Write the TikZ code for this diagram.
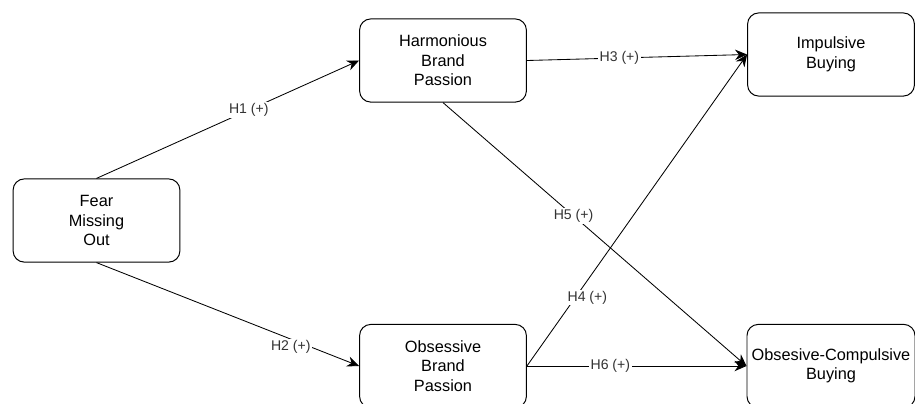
\documentclass[tikz,border=0pt]{standalone}
\usepackage{fontspec}
\setmainfont{Liberation Sans}
\usetikzlibrary{arrows.meta}

\tikzset{
  construct/.style={draw, rounded corners=8pt, line width=0.7pt, minimum width=4.17cm, minimum height=2.08cm, align=center, font=\fontsize{11.6}{13.9}\selectfont},
  hyp/.style={draw, line width=0.6pt, -{Stealth[length=3mm, width=2.6mm]}},
  hlabel/.style={fill=white, inner sep=1pt, text=black!80, font=\fontsize{10}{12}\selectfont}
}

\begin{document}
\begin{tikzpicture}[x=0.025cm, y=-0.025cm]
\useasboundingbox (0,0) rectangle (915,403);

\node[construct] (fomo) at (96.5,220.5) {Fear\\Missing\\Out};
\node[construct] (hbp) at (443,60.5) {Harmonious\\Brand\\Passion};
\node[construct] (obp) at (443,366) {Obsessive\\Brand\\Passion};
\node[construct] (imp) at (831,54.5) {Impulsive\\Buying};
\node[construct] (ocb) at (831,366) {Obsesive-Compulsive\\Buying};

% hypotheses
\draw[hyp] (fomo.north) -- (hbp.west) node[hlabel, pos=0.58] {H1 (+)};
\draw[hyp] (fomo.south) -- (obp.west) node[hlabel, pos=0.74, yshift=-0.2cm] {H2 (+)};
\draw[hyp] (hbp.east) -- (imp.west) node[hlabel, pos=0.42] {H3 (+)};
\draw[hyp] (obp.east) -- (imp.west) node[hlabel, pos=0.22, xshift=0.3cm] {H4 (+)};
\draw[hyp] (hbp.south) -- (ocb.west) node[hlabel, pos=0.43] {H5 (+)};
\draw[hyp] (obp.east) -- (ocb.west) node[hlabel, pos=0.38] {H6 (+)};

\end{tikzpicture}
\end{document}
